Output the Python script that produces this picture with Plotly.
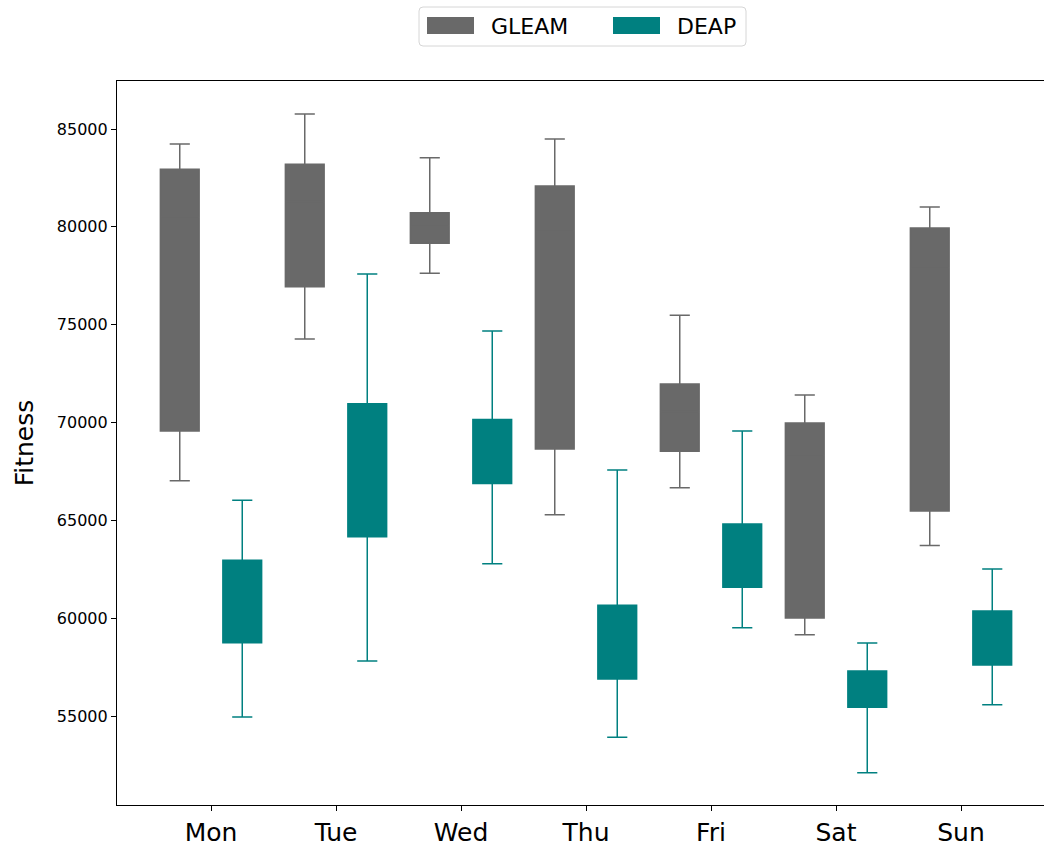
import plotly.graph_objects as go

days = ["Mon", "Tue", "Wed", "Thu", "Fri", "Sat", "Sun"]

gleam_low = [67020, 74270, 77630, 65290, 66670, 59160, 63720]
gleam_q1 = [69570, 76940, 79160, 68650, 68530, 60010, 65480]
gleam_med = [80520, 81290, 80030, 79770, 70570, 68360, 77880]
gleam_q3 = [82940, 83200, 80720, 82090, 71970, 69980, 79940]
gleam_high = [84230, 85770, 83530, 84490, 75480, 71410, 81010]

deap_low = [54950, 57820, 62790, 53920, 59520, 52110, 55580]
deap_q1 = [58750, 64170, 66890, 56900, 61580, 55450, 57610]
deap_med = [60200, 67390, 68560, 59300, 63470, 56880, 59140]
deap_q3 = [62960, 70960, 70150, 60660, 64820, 57300, 60370]
deap_high = [66030, 77590, 74680, 67580, 69570, 58740, 62520]

series_names = ["GLEAM", "DEAP"]
yticks = [55000, 60000, 65000, 70000, 75000, 80000, 85000]

GRAY = "#696969"
TEAL = "#008080"
offset = 0.25
box_w = 0.31

W, H = 1044, 846
ML, MR, MT, MB = 117, 0, 81, 41
PW, PH = W - ML - MR, H - MT - MB

pos = list(range(len(days)))

fig = go.Figure()
fig.add_trace(go.Box(
    name=series_names[0],
    x=[p - offset for p in pos],
    lowerfence=gleam_low, q1=gleam_q1, median=gleam_med, q3=gleam_q3, upperfence=gleam_high,
    width=box_w, whiskerwidth=0.52,
    fillcolor=GRAY, line=dict(color=GRAY, width=1.5),
    boxpoints=False, showlegend=False,
))
fig.add_trace(go.Box(
    name=series_names[1],
    x=[p + offset for p in pos],
    lowerfence=deap_low, q1=deap_q1, median=deap_med, q3=deap_q3, upperfence=deap_high,
    width=box_w, whiskerwidth=0.52,
    fillcolor=TEAL, line=dict(color=TEAL, width=1.5),
    boxpoints=False, showlegend=False,
))


def px_x(px):
    return (px - ML) / PW


def px_y(py):
    return (H - MB - py) / PH


# manual legend (matplotlib-like, rounded frame)
x0, x1, y0, y1, r = 419, 746, 7, 46, 4
path = (
    f"M {px_x(x0 + r)} {px_y(y0)} L {px_x(x1 - r)} {px_y(y0)} "
    f"Q {px_x(x1)} {px_y(y0)} {px_x(x1)} {px_y(y0 + r)} "
    f"L {px_x(x1)} {px_y(y1 - r)} "
    f"Q {px_x(x1)} {px_y(y1)} {px_x(x1 - r)} {px_y(y1)} "
    f"L {px_x(x0 + r)} {px_y(y1)} "
    f"Q {px_x(x0)} {px_y(y1)} {px_x(x0)} {px_y(y1 - r)} "
    f"L {px_x(x0)} {px_y(y0 + r)} "
    f"Q {px_x(x0)} {px_y(y0)} {px_x(x0 + r)} {px_y(y0)} Z"
)
shapes = [dict(type="path", xref="paper", yref="paper", path=path,
               line=dict(color="#d6d6d6", width=1), fillcolor="rgba(255,255,255,0.8)")]
annotations = []
for name, col, px0, tx in [(series_names[0], GRAY, 427, 489), (series_names[1], TEAL, 613, 675)]:
    shapes.append(dict(type="rect", xref="paper", yref="paper",
                       x0=px_x(px0), x1=px_x(px0 + 47), y0=px_y(34), y1=px_y(17),
                       fillcolor=col, line=dict(width=0)))
    annotations.append(dict(xref="paper", yref="paper", x=px_x(tx), y=px_y(26.5),
                            xanchor="left", yanchor="middle", text=name, showarrow=False,
                            font=dict(size=22, color="black")))

fig.update_layout(
    width=W, height=H,
    margin=dict(l=ML, r=MR, t=MT, b=MB, autoexpand=False),
    paper_bgcolor="white", plot_bgcolor="white",
    font=dict(family="DejaVu Sans", color="black"),
    boxmode="overlay",
    showlegend=False,
    shapes=shapes,
    annotations=annotations,
    xaxis=dict(
        range=[-0.752, 6.664], tickmode="array", tickvals=pos, ticktext=days,
        tickfont=dict(size=25), showgrid=False, zeroline=False, automargin=False,
        showline=True, linecolor="black", linewidth=1.2, mirror=True,
        ticks="outside", ticklen=5, tickcolor="black",
    ),
    yaxis=dict(
        range=[50456, 87453], tickmode="array",
        tickvals=yticks, ticktext=[str(v) for v in yticks],
        tickfont=dict(size=16), showgrid=False, zeroline=False, automargin=False,
        showline=True, linecolor="black", linewidth=1.2, mirror=False,
        ticks="outside", ticklen=5, tickcolor="black",
        title=dict(text="Fitness", font=dict(size=25), standoff=16),
    ),
)

fig.write_html(
    "out.html",
    config={"displayModeBar": False},
    post_script="document.body.style.margin='0px';document.body.style.overflow='hidden';",
)
